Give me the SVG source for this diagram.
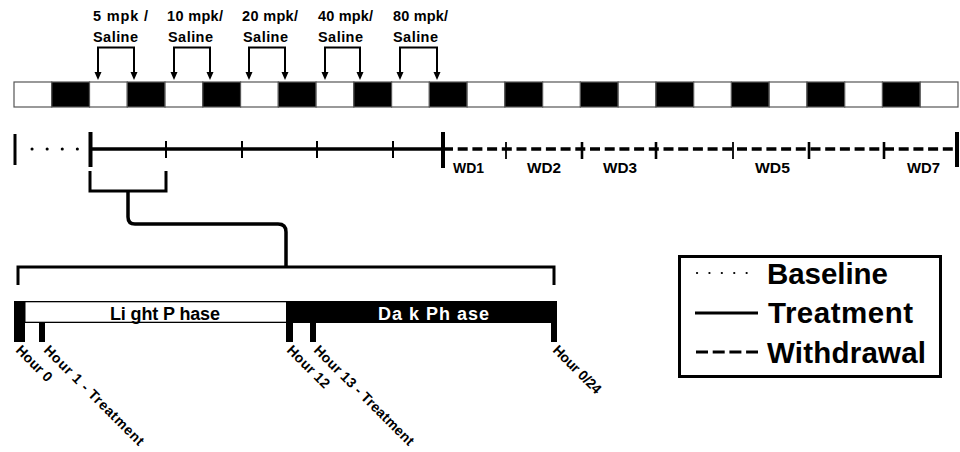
<svg xmlns="http://www.w3.org/2000/svg" width="960" height="452" viewBox="0 0 960 452">
<defs>
<style>
.t{font-family:"Liberation Sans",Arial,sans-serif;font-weight:bold;fill:#000}
.dose{font-size:14.5px}
.wd{font-size:14px}
.hr{font-size:14px}
.ph{font-family:"Liberation Sans",Arial,sans-serif;font-weight:bold;font-size:18px}
.lg{font-size:29.5px}
.seg{stroke:#555;stroke-width:1.2}
.w{fill:#fff}
.b{fill:#000}
.ln{fill:none;stroke:#000}
</style>
<marker id="ah" markerUnits="userSpaceOnUse" markerWidth="9" markerHeight="8" refX="0" refY="3.5" orient="auto-start-reverse">
<path d="M0,0 L8,3.5 L0,7 z" fill="#000"/>
</marker>
</defs>
<rect width="960" height="452" fill="#fff"/>

<g id="day-bar">
<rect class="seg w" x="14" y="82" width="37.76" height="25"/>
<rect class="seg b" x="51.76" y="82" width="37.76" height="25"/>
<rect class="seg w" x="89.52" y="82" width="37.76" height="25"/>
<rect class="seg b" x="127.28" y="82" width="37.76" height="25"/>
<rect class="seg w" x="165.04" y="82" width="37.76" height="25"/>
<rect class="seg b" x="202.8" y="82" width="37.76" height="25"/>
<rect class="seg w" x="240.56" y="82" width="37.76" height="25"/>
<rect class="seg b" x="278.32" y="82" width="37.76" height="25"/>
<rect class="seg w" x="316.08" y="82" width="37.76" height="25"/>
<rect class="seg b" x="353.84" y="82" width="37.76" height="25"/>
<rect class="seg w" x="391.6" y="82" width="37.76" height="25"/>
<rect class="seg b" x="429.36" y="82" width="37.76" height="25"/>
<rect class="seg w" x="467.12" y="82" width="37.76" height="25"/>
<rect class="seg b" x="504.88" y="82" width="37.76" height="25"/>
<rect class="seg w" x="542.64" y="82" width="37.76" height="25"/>
<rect class="seg b" x="580.4" y="82" width="37.76" height="25"/>
<rect class="seg w" x="618.16" y="82" width="37.76" height="25"/>
<rect class="seg b" x="655.92" y="82" width="37.76" height="25"/>
<rect class="seg w" x="693.68" y="82" width="37.76" height="25"/>
<rect class="seg b" x="731.44" y="82" width="37.76" height="25"/>
<rect class="seg w" x="769.2" y="82" width="37.76" height="25"/>
<rect class="seg b" x="806.96" y="82" width="37.76" height="25"/>
<rect class="seg w" x="844.72" y="82" width="37.76" height="25"/>
<rect class="seg b" x="882.48" y="82" width="37.76" height="25"/>
<rect class="seg w" x="920.24" y="82" width="37.76" height="25"/>
</g>

<g id="dose-5">
<text class="t dose" x="93" y="20.5" textLength="55" lengthAdjust="spacing">5 mpk /</text>
<text class="t dose" x="93" y="41.5" textLength="45" lengthAdjust="spacing">Saline</text>
</g>
<g id="dose-10">
<text class="t dose" x="167" y="20.5" textLength="56" lengthAdjust="spacing">10 mpk/</text>
<text class="t dose" x="168" y="41.5" textLength="45" lengthAdjust="spacing">Saline</text>
</g>
<g id="dose-20">
<text class="t dose" x="242" y="20.5" textLength="56" lengthAdjust="spacing">20 mpk/</text>
<text class="t dose" x="243" y="41.5" textLength="45" lengthAdjust="spacing">Saline</text>
</g>
<g id="dose-40">
<text class="t dose" x="318" y="20.5" textLength="55" lengthAdjust="spacing">40 mpk/</text>
<text class="t dose" x="318" y="41.5" textLength="45" lengthAdjust="spacing">Saline</text>
</g>
<g id="dose-80">
<text class="t dose" x="393" y="20.5" textLength="55" lengthAdjust="spacing">80 mpk/</text>
<text class="t dose" x="393" y="41.5" textLength="45" lengthAdjust="spacing">Saline</text>
</g>

<g id="timeline">
<line class="ln" x1="32" y1="149" x2="78" y2="149" stroke-width="3" stroke-linecap="round" stroke-dasharray="0.1 15"/>
<line class="ln" x1="90" y1="149" x2="443" y2="149" stroke-width="3.5"/>
<line class="ln" x1="443" y1="149" x2="957" y2="149" stroke-width="3.5" stroke-dasharray="10 4.7"/>
<line class="ln" x1="15" y1="134" x2="15" y2="165" stroke-width="3"/>
<line class="ln" x1="90.5" y1="132" x2="90.5" y2="167" stroke-width="4"/>
<line class="ln" x1="166" y1="141" x2="166" y2="158" stroke-width="2"/>
<line class="ln" x1="242" y1="141" x2="242" y2="158" stroke-width="2"/>
<line class="ln" x1="317" y1="141" x2="317" y2="158" stroke-width="2"/>
<line class="ln" x1="393" y1="141" x2="393" y2="158" stroke-width="2"/>
<line class="ln" x1="443" y1="132" x2="443" y2="168" stroke-width="4"/>
<line class="ln" x1="506" y1="142" x2="506" y2="159" stroke-width="1.8"/>
<line class="ln" x1="582" y1="142" x2="582" y2="159" stroke-width="2.6"/>
<line class="ln" x1="656" y1="142" x2="656" y2="159" stroke-width="2.6"/>
<line class="ln" x1="733" y1="142" x2="733" y2="159" stroke-width="1.8"/>
<line class="ln" x1="809" y1="142" x2="809" y2="159" stroke-width="2.6"/>
<line class="ln" x1="884" y1="142" x2="884" y2="159" stroke-width="2.6"/>
<line class="ln" x1="957" y1="132" x2="957" y2="167" stroke-width="4"/>
<text class="t wd" x="453" y="172.5" textLength="31" lengthAdjust="spacingAndGlyphs">WD1</text>
<text class="t wd" x="527" y="172.5" textLength="34" lengthAdjust="spacingAndGlyphs">WD2</text>
<text class="t wd" x="603" y="172.5" textLength="34" lengthAdjust="spacingAndGlyphs">WD3</text>
<text class="t wd" x="755" y="172.5" textLength="35" lengthAdjust="spacingAndGlyphs">WD5</text>
<text class="t wd" x="907" y="172.5" textLength="33" lengthAdjust="spacingAndGlyphs">WD7</text>
</g>

<g id="phase-bar">
<rect x="14" y="301" width="543" height="22" fill="#000"/>
<rect x="25.5" y="302.3" width="260.5" height="19.4" fill="#fff"/>
<text class="ph" x="110" y="319.5" textLength="110" lengthAdjust="spacing" fill="#000">Li ght P hase</text>
<text class="ph" x="378" y="319.5" textLength="111" lengthAdjust="spacing" fill="#fff">Da k Ph ase</text>
<rect x="14" y="323" width="11" height="19" fill="#000"/>
<rect x="39" y="323" width="6" height="19" fill="#000"/>
<rect x="286" y="323" width="7" height="19" fill="#000"/>
<rect x="310" y="323" width="6" height="19" fill="#000"/>
<rect x="551" y="323" width="6" height="19" fill="#000"/>
</g>

<g id="hour-labels">
<text class="t hr" transform="translate(15,351) rotate(45)" textLength="45" lengthAdjust="spacing">Hour 0</text>
<text class="t hr" transform="translate(43,351) rotate(45)" textLength="135" lengthAdjust="spacing">Hour 1 - Treatment</text>
<text class="t hr" transform="translate(286,351) rotate(45)" textLength="54" lengthAdjust="spacing">Hour 12</text>
<text class="t hr" transform="translate(313,351) rotate(45)" textLength="135" lengthAdjust="spacing">Hour 13 - Treatment</text>
<text class="t hr" transform="translate(552,351) rotate(45)" textLength="62" lengthAdjust="spacing">Hour 0/24</text>
</g>

<g id="legend">
<rect x="679.5" y="256.5" width="261" height="120" fill="#fff" stroke="#000" stroke-width="3"/>
<line class="ln" x1="697" y1="273" x2="759" y2="273" stroke-width="2.2" stroke-linecap="round" stroke-dasharray="0.1 12.3"/>
<line class="ln" x1="695" y1="313" x2="758" y2="313" stroke-width="3"/>
<line class="ln" x1="696" y1="352" x2="758" y2="352" stroke-width="3" stroke-dasharray="12 4.7"/>
<text class="t lg" x="767" y="284" textLength="121" lengthAdjust="spacing">Baseline</text>
<text class="t lg" x="768" y="323" textLength="145" lengthAdjust="spacing">Treatment</text>
<text class="t lg" x="767" y="363" textLength="159" lengthAdjust="spacing">Withdrawal</text>
</g>

<g id="connectors">
<path class="ln" d="M98,72 V47.5 H134 V72" stroke-width="2" marker-start="url(#ah)" marker-end="url(#ah)"/>
<path class="ln" d="M174,72 V47.5 H210 V72" stroke-width="2" marker-start="url(#ah)" marker-end="url(#ah)"/>
<path class="ln" d="M249,72 V47.5 H285 V72" stroke-width="2" marker-start="url(#ah)" marker-end="url(#ah)"/>
<path class="ln" d="M325,72 V47.5 H360 V72" stroke-width="2" marker-start="url(#ah)" marker-end="url(#ah)"/>
<path class="ln" d="M400,72 V47.5 H437 V72" stroke-width="2" marker-start="url(#ah)" marker-end="url(#ah)"/>
<path class="ln" d="M90,171 V191 H166 V171" stroke-width="3"/>
<path class="ln" d="M128,191 V217 Q128,224 135,224 H278 Q286,224 286,232 V267" stroke-width="3.5"/>
<path class="ln" d="M18,285 V267 H554 V285" stroke-width="3"/>
</g>
</svg>
